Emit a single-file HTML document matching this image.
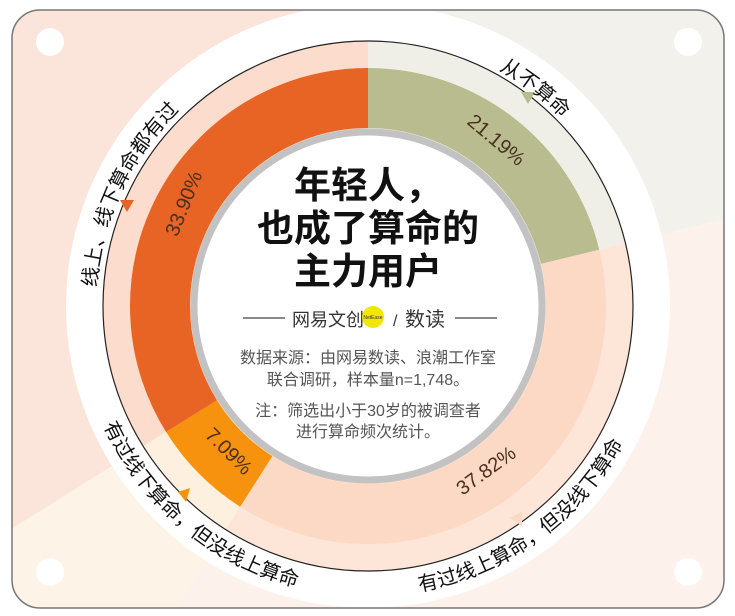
<!DOCTYPE html>
<html><head><meta charset="utf-8"><style>
html,body{margin:0;padding:0;background:#fff;}
svg{display:block;}
text{font-family:"Liberation Sans","Noto Sans CJK SC",sans-serif;}
</style></head><body>
<svg width="735" height="616" viewBox="0 0 735 616" xmlns="http://www.w3.org/2000/svg">
<defs>
<clipPath id="card"><rect x="12" y="10" width="712" height="598" rx="28"/></clipPath>
<path id="pA" d="M414.9,40.1 A270,270 0 0 1 612.7,191.9"/>
<path id="pB" d="M112.4,399 A272,272 0 0 1 275,50.4"/>
<path id="pC" d="M78,306 A290,290 0 0 0 418.4,591.6"/>
<path id="pD" d="M297.8,587.4 A290,290 0 0 0 657.3,326.2"/>
</defs>
<g clip-path="url(#card)">
<g transform="rotate(-90 368 306)" fill="none">
<circle cx="368" cy="306" r="300" stroke="#f2f1ec" stroke-width="600" stroke-dasharray="399.42 1884.96"/>
<circle cx="368" cy="306" r="300" stroke="#fdf1eb" stroke-width="600" stroke-dasharray="712.89 1884.96" stroke-dashoffset="-399.42"/>
<circle cx="368" cy="306" r="300" stroke="#fdf3e7" stroke-width="600" stroke-dasharray="133.64 1884.96" stroke-dashoffset="-1112.31"/>
<circle cx="368" cy="306" r="300" stroke="#fbe4da" stroke-width="600" stroke-dasharray="639.1 1884.96" stroke-dashoffset="-1245.95"/>
</g>
<circle cx="368" cy="306" r="302" fill="#fff"/>
<g transform="rotate(-90 368 306)" fill="none">
<circle cx="368" cy="306" r="132.5" stroke="#efefe8" stroke-width="265" stroke-dasharray="176.41 832.52"/>
<circle cx="368" cy="306" r="132.5" stroke="#fde5d8" stroke-width="265" stroke-dasharray="314.86 832.52" stroke-dashoffset="-176.41"/>
<circle cx="368" cy="306" r="132.5" stroke="#fdf0df" stroke-width="265" stroke-dasharray="59.03 832.52" stroke-dashoffset="-491.27"/>
<circle cx="368" cy="306" r="132.5" stroke="#fbdccd" stroke-width="265" stroke-dasharray="282.3 832.52" stroke-dashoffset="-550.3"/>
</g>
<circle cx="368" cy="306" r="265" fill="none" stroke="#222" stroke-width="1.2"/>
<g transform="rotate(-90 368 306)" fill="none">
<circle cx="368" cy="306" r="208" stroke="#b9bc8e" stroke-width="60" stroke-dasharray="276.93 1306.9"/>
<circle cx="368" cy="306" r="208" stroke="#fcd9c4" stroke-width="60" stroke-dasharray="494.27 1306.9" stroke-dashoffset="-276.93"/>
<circle cx="368" cy="306" r="208" stroke="#f7920e" stroke-width="60" stroke-dasharray="92.66 1306.9" stroke-dashoffset="-771.2"/>
<circle cx="368" cy="306" r="208" stroke="#e86424" stroke-width="60" stroke-dasharray="443.1 1306.9" stroke-dashoffset="-863.86"/>
</g>
<circle cx="368" cy="306" r="174" fill="#fff" stroke="#c2c2c2" stroke-width="7"/>
<polygon points="120,200 134,200 127,212" fill="#e86424"/>
<polygon points="521,92 535,92 528,104" fill="#b9bc8e"/>
<polygon points="178,492 190,488 186,502" fill="#f7920e"/>
<polygon points="510,518 522,512 522,526" fill="#fcd9c4"/>
<circle cx="50" cy="42" r="14" fill="#fff"/>
<circle cx="688" cy="42" r="14" fill="#fff"/>
<circle cx="50" cy="572" r="14" fill="#fff"/>
<circle cx="688" cy="572" r="14" fill="#fff"/>
</g>
<rect x="12" y="10" width="712" height="598" rx="28" fill="none" stroke="#777" stroke-width="1.5"/>
<g font-size="20" fill="#111">
<text><textPath href="#pA" startOffset="50%" text-anchor="middle">从不算命</textPath></text>
<text><textPath href="#pB" startOffset="50%" text-anchor="middle">线上、线下算命都有过</textPath></text>
<text><textPath href="#pC" startOffset="50%" text-anchor="middle">有过线下算命，但没线上算命</textPath></text>
<text><textPath href="#pD" startOffset="50%" text-anchor="middle">有过线上算命，但没线下算命</textPath></text>
</g>
<g font-size="20" fill="#4a3020" text-anchor="middle">
<text transform="translate(492,145) rotate(40)">21.19%</text>
<text transform="translate(190,206) rotate(-68)">33.90%</text>
<text transform="translate(224,456) rotate(45)">7.09%</text>
<text transform="translate(490,476) rotate(-36)">37.82%</text>
</g>
<g text-anchor="middle" font-weight="bold" font-size="37" fill="#111">
<text x="368" y="198">年轻人，</text>
<text x="368" y="241">也成了算命的</text>
<text x="368" y="284">主力用户</text>
</g>
<line x1="243" y1="318" x2="285" y2="318" stroke="#444" stroke-width="1.2"/>
<line x1="455" y1="318" x2="497" y2="318" stroke="#444" stroke-width="1.2"/>
<text x="292" y="326" font-size="18" fill="#333">网易文创</text>
<circle cx="373" cy="317" r="11" fill="#f3e600"/>
<text x="373" y="319" font-size="5" text-anchor="middle" fill="#333">NetEase</text>
<text x="393" y="326" font-size="16" fill="#333">/</text>
<text x="405" y="326" font-size="20" fill="#333">数读</text>
<g text-anchor="middle" font-size="16" fill="#555">
<text x="368" y="363">数据来源：由网易数读、浪潮工作室</text>
<text x="368" y="385">联合调研，样本量n=1,748。</text>
<text x="368" y="416">注：筛选出小于30岁的被调查者</text>
<text x="368" y="437">进行算命频次统计。</text>
</g>
</svg>
</body></html>
